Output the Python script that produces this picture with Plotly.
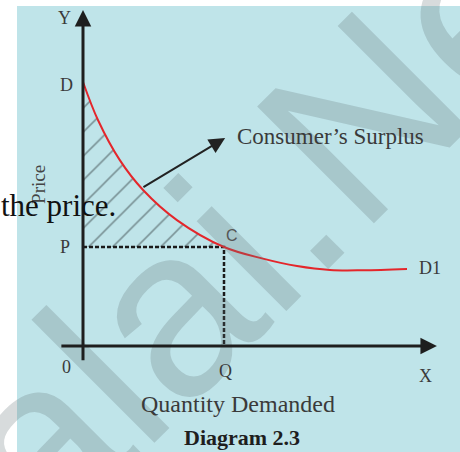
import plotly.graph_objects as go

# ---- data (economic units) ----
curve_q = [0.0, 0.53, 1.3, 2.13, 3.33, 5.0, 6.38, 7.59, 8.76, 9.93, 11.49]
curve_p = [10.0, 8.56, 7.05, 5.91, 4.77, 3.75, 3.31, 3.03, 2.88, 2.87, 2.92]
price_P = 3.75
qty_Q = 5.0
surplus_q = curve_q[:6]
surplus_p = curve_p[:6]

point_labels = ["Y", "D", "P", "0", "Q", "X", "D1"]
point_x = [-0.64, -0.60, -0.64, -0.59, 5.07, 12.13, 12.3]
point_y = [12.42, 9.89, 3.75, -0.80, -0.95, -1.14, 2.95]

SERIF = "Liberation Serif, Times New Roman, serif"
TXT = "#3a3a3a"

px_per_x = 28.2
px_per_y = 26.4

fig = go.Figure()

# horizontal P line (base of hatch fill)
fig.add_trace(go.Scatter(x=[0, qty_Q], y=[price_P, price_P], mode="lines",
                         line=dict(width=0, color="rgba(0,0,0,0)"),
                         hoverinfo="skip", showlegend=False))
# hatched consumer surplus
fig.add_trace(go.Scatter(x=surplus_q, y=surplus_p, mode="lines",
                         line=dict(width=0, color="rgba(0,0,0,0)", shape="spline"),
                         fill="tonexty", fillcolor="rgba(0,0,0,0)",
                         fillpattern=dict(shape="/", fgcolor="#384446",
                                          bgcolor="rgba(0,0,0,0)", size=17, solidity=0.1),
                         hoverinfo="skip", showlegend=False))
# dashed P and Q lines
fig.add_trace(go.Scatter(x=[0, qty_Q, qty_Q], y=[price_P, price_P, 0], mode="lines",
                         line=dict(width=2.5, color="#1a1a1a", dash="4px,2px"),
                         hoverinfo="skip", showlegend=False))
# demand curve
fig.add_trace(go.Scatter(x=curve_q, y=curve_p, mode="lines",
                         line=dict(width=2.0, color="#e4262b", shape="spline"),
                         hoverinfo="skip", showlegend=False))

ann = []
# watermark
ann.append(dict(xref="paper", yref="paper", x=0.045, y=0.02, xanchor="center", yanchor="middle",
                text="Padasalai.Net", showarrow=False, textangle=-45,
                font=dict(family="Liberation Sans, Arial, sans-serif", size=240,
                          color="rgba(95,110,115,0.25)")))
# axes with arrows
ann.append(dict(x=0, y=12.73, ax=0, ay=-0.6, xref="x", yref="y", axref="x", ayref="y",
                text="", showarrow=True, arrowhead=2, arrowsize=1.1, arrowwidth=3,
                arrowcolor="#1e1e1e", standoff=0, startstandoff=0))
ann.append(dict(x=12.55, y=0, ax=-0.82, ay=0, xref="x", yref="y", axref="x", ayref="y",
                text="", showarrow=True, arrowhead=2, arrowsize=1.1, arrowwidth=3,
                arrowcolor="#1e1e1e", standoff=0, startstandoff=0))
# consumer surplus pointer
ann.append(dict(x=5.04, y=7.88, ax=2.09, ay=5.98, xref="x", yref="y", axref="x", ayref="y",
                text="", showarrow=True, arrowhead=2, arrowsize=1.6, arrowwidth=2,
                arrowcolor="#222222", standoff=0))
for t, xx, yy in zip(point_labels, point_x, point_y):
    ann.append(dict(x=xx, y=yy, xref="x", yref="y", text=t, showarrow=False,
                    font=dict(family=SERIF, size=18, color=TXT)))
ann.append(dict(x=5.3, y=4.2, xref="x", yref="y", text="C", showarrow=False,
                font=dict(family="Liberation Sans, Arial, sans-serif", size=16, color="#555555")))
ann.append(dict(x=8.76, y=7.92, xref="x", yref="y", text="Consumer’s Surplus",
                showarrow=False, font=dict(family=SERIF, size=23, color=TXT)))
ann.append(dict(x=5.5, y=-2.2, xref="x", yref="y", text="Quantity Demanded",
                showarrow=False, font=dict(family=SERIF, size=24, color=TXT)))
ann.append(dict(x=5.64, y=-3.45, xref="x", yref="y", text="<b>Diagram 2.3</b>",
                showarrow=False, font=dict(family=SERIF, size=22, color="#1e1e1e")))
ann.append(dict(x=-1.6, y=(346 - 184) / px_per_y, xref="x", yref="y", text="Price", textangle=-90,
                showarrow=False, font=dict(family=SERIF, size=19, color="#444444")))
ann.append(dict(x=(118 - 83) / px_per_x, y=(346 - 205) / px_per_y, xref="x", yref="y",
                xanchor="right", text="the price.", showarrow=False,
                font=dict(family=SERIF, size=31, color="#111111")))

fig.update_layout(
    width=460, height=452,
    margin=dict(l=17, r=0, t=6, b=0),
    paper_bgcolor="white",
    plot_bgcolor="#bfe4e9",
    xaxis=dict(range=[(17 - 83) / px_per_x, (460 - 83) / px_per_x], visible=False, fixedrange=True),
    yaxis=dict(range=[(346 - 452) / px_per_y, (346 - 6) / px_per_y], visible=False, fixedrange=True),
    annotations=ann,
    showlegend=False,
)
fig.write_html("out.html", config={"displayModeBar": False},
               post_script="document.body.style.margin='0px';")
